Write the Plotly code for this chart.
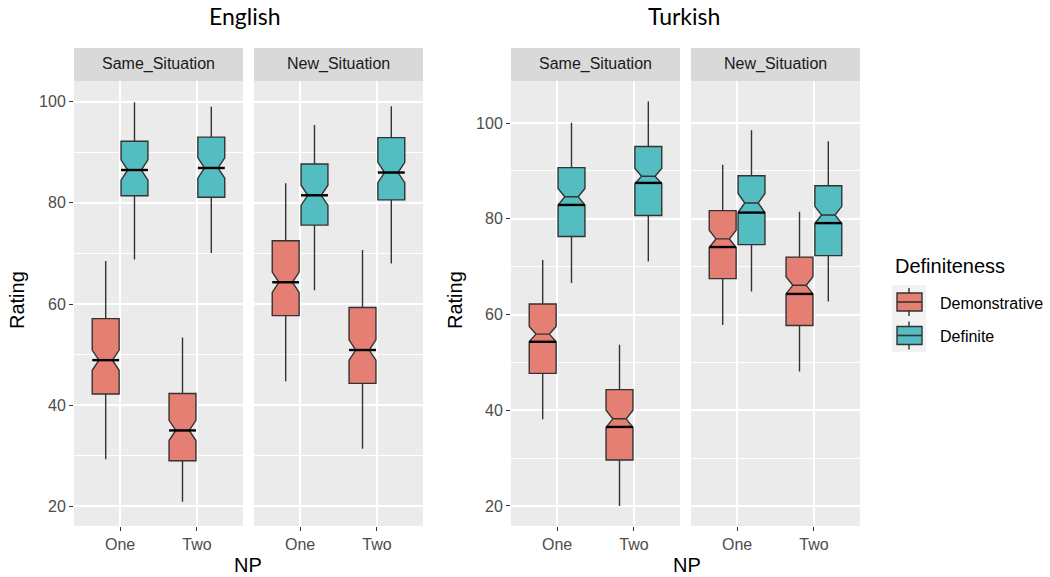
import plotly.graph_objects as go

# ---------------- data ----------------
np_levels = ["One", "Two"]
situations = ["Same_Situation", "New_Situation"]
groups = ["Demonstrative", "Definite"]
languages = ["English", "Turkish"]

# order of 8 entries: Same-Dem-One, Same-Dem-Two, Same-Def-One, Same-Def-Two,
#                     New-Dem-One,  New-Dem-Two,  New-Def-One,  New-Def-Two
en_lower = [29.3, 20.9, 68.8, 70.1, 44.7, 31.4, 62.7, 68.0]
en_q1 = [42.2, 29.0, 81.4, 81.1, 57.7, 44.3, 75.6, 80.6]
en_median = [48.9, 35.0, 86.5, 86.9, 64.3, 50.9, 81.5, 86.0]
en_q3 = [57.1, 42.3, 92.2, 93.0, 72.5, 59.3, 87.7, 92.9]
en_upper = [68.5, 53.4, 99.9, 99.0, 83.9, 70.7, 95.4, 99.1]
en_notch_center = [48.9, 35.0, 86.5, 86.9, 64.3, 50.9, 81.5, 86.0]
en_notch_half = [2.0, 2.0, 2.0, 2.0, 2.0, 2.0, 2.0, 2.0]

tr_lower = [38.1, 20.0, 66.6, 71.1, 57.8, 48.1, 64.8, 62.7]
tr_q1 = [47.7, 29.6, 76.3, 80.7, 67.5, 57.7, 74.6, 72.3]
tr_median = [54.3, 36.5, 82.9, 87.5, 74.1, 64.3, 81.3, 79.1]
tr_q3 = [62.2, 44.3, 90.7, 95.1, 81.7, 72.0, 89.0, 86.9]
tr_upper = [71.4, 53.7, 100.1, 104.5, 91.3, 81.5, 98.5, 96.2]
tr_notch_center = [55.9, 38.2, 84.6, 88.9, 75.8, 66.1, 83.3, 80.8]
tr_notch_half = [1.6, 1.8, 1.75, 1.6, 1.8, 1.8, 2.0, 1.8]

y_ticks = [20, 40, 60, 80, 100]

# ---------------- style ----------------
fill_colors = {"Demonstrative": "#E67F73", "Definite": "#54BDC2"}
outline = "#333333"
panel_bg = "#EBEBEB"
strip_bg = "#D9D9D9"
base_font = "Liberation Sans, Arial, sans-serif"
title_font = "Lato, Liberation Sans, sans-serif"

W, H = 1050, 577
panel_top, panel_bottom, strip_top = 81, 526, 48
panels_px = [(74, 243), (254, 423), (511, 680), (691, 860)]
y_ranges = {"English": [16.1, 104.1], "Turkish": [15.8, 108.8]}

dodge = 0.1875
box_w = 0.35

data_sets = {
    "English": dict(lo=en_lower, q1=en_q1, med=en_median, q3=en_q3, hi=en_upper,
                    nc=en_notch_center, nh=en_notch_half),
    "Turkish": dict(lo=tr_lower, q1=tr_q1, med=tr_median, q3=tr_q3, hi=tr_upper,
                    nc=tr_notch_center, nh=tr_notch_half),
}

fig = go.Figure()

for li, lang in enumerate(languages):
    d = data_sets[lang]
    for si, sit in enumerate(situations):
        ax_i = li * 2 + si + 1
        xref = "x" if ax_i == 1 else f"x{ax_i}"
        yref = "y" if ax_i == 1 else f"y{ax_i}"
        for gi, grp in enumerate(groups):
            idx = [si * 4 + gi * 2 + k for k in range(2)]
            offset = -dodge if gi == 0 else dodge
            xs = [k + offset for k in range(2)]
            fig.add_trace(go.Box(
                x=xs,
                q1=[d["q1"][i] for i in idx],
                median=[d["nc"][i] for i in idx],
                q3=[d["q3"][i] for i in idx],
                lowerfence=[d["lo"][i] for i in idx],
                upperfence=[d["hi"][i] for i in idx],
                notchspan=[d["nh"][i] for i in idx],
                notched=True,
                notchwidth=0.25,
                width=box_w,
                whiskerwidth=0,
                boxpoints=False,
                fillcolor=fill_colors[grp],
                line=dict(color=outline, width=1.4),
                name=grp,
                legendgroup=grp,
                showlegend=False,
                xaxis=xref, yaxis=yref,
            ))
            # thick black median segments
            mx, my = [], []
            for k, i in enumerate(idx):
                mx += [xs[k] - box_w / 2, xs[k] + box_w / 2, None]
                my += [d["med"][i], d["med"][i], None]
            fig.add_trace(go.Scatter(
                x=mx, y=my, mode="lines",
                line=dict(color="black", width=2.4),
                showlegend=False, hoverinfo="skip",
                xaxis=xref, yaxis=yref,
            ))

y_dom = [1 - panel_bottom / H, 1 - panel_top / H]
layout = dict(
    width=W, height=H,
    margin=dict(l=0, r=0, t=0, b=0),
    paper_bgcolor="white",
    plot_bgcolor=panel_bg,
    boxmode="overlay",
    font=dict(family=base_font, color="#4D4D4D", size=16),
    showlegend=False,
)

shapes, annotations = [], []
for ax_i, (x0, x1) in enumerate(panels_px, start=1):
    lang = languages[(ax_i - 1) // 2]
    xkey = "xaxis" if ax_i == 1 else f"xaxis{ax_i}"
    ykey = "yaxis" if ax_i == 1 else f"yaxis{ax_i}"
    yname = "y" if ax_i == 1 else f"y{ax_i}"
    xname = "x" if ax_i == 1 else f"x{ax_i}"
    layout[xkey] = dict(
        domain=[x0 / W, x1 / W], anchor=yname,
        range=[-0.6, 1.6], tickvals=[0, 1], ticktext=np_levels,
        showgrid=True, gridcolor="white", gridwidth=1.6,
        zeroline=False, ticks="outside", ticklen=4, tickwidth=1.2, tickcolor="#333333",
        tickfont=dict(size=16, color="#4D4D4D"), showline=False,
    )
    first = (ax_i % 2 == 1)
    layout[ykey] = dict(
        domain=y_dom, anchor=xname,
        range=y_ranges[lang], tickvals=y_ticks,
        showgrid=True, gridcolor="white", gridwidth=1.6,
        minor=dict(tickvals=[30, 50, 70, 90], showgrid=True, gridcolor="white", gridwidth=0.7, ticks=""),
        zeroline=False, showticklabels=first,
        ticks="outside" if first else "", ticklen=4, tickwidth=1.2, tickcolor="#333333",
        tickfont=dict(size=16, color="#4D4D4D"), showline=False,
    )
    # strip
    shapes.append(dict(type="rect", xref=f"{xname} domain", yref="paper",
                       x0=0, x1=1, y0=1 - panel_top / H, y1=1 - strip_top / H,
                       fillcolor=strip_bg, line=dict(width=0), layer="below"))
    annotations.append(dict(text=situations[(ax_i - 1) % 2], xref=f"{xname} domain", yref="paper",
                            x=0.5, y=1 - (panel_top + strip_top) / 2 / H, showarrow=False,
                            xanchor="center", yanchor="middle",
                            font=dict(size=16, color="#1A1A1A")))

# language titles, axis titles
title_x = {"English": 245, "Turkish": 684}
rating_x = {"English": 17, "Turkish": 455}
for lang in languages:
    annotations.append(dict(text=lang, xref="paper", yref="paper",
                            x=title_x[lang] / W, y=1 - 16 / H, showarrow=False,
                            xanchor="center", yanchor="middle",
                            font=dict(family=title_font, size=23, color="black")))
    annotations.append(dict(text="NP", xref="paper", yref="paper",
                            x=(title_x[lang] + 3) / W, y=1 - 565 / H, showarrow=False,
                            xanchor="center", yanchor="middle",
                            font=dict(size=20, color="black")))
    annotations.append(dict(text="Rating", xref="paper", yref="paper", textangle=-90,
                            x=rating_x[lang] / W, y=1 - 300 / H, showarrow=False,
                            xanchor="center", yanchor="middle",
                            font=dict(size=20, color="black")))

# ---- legend (ggplot style keys) ----
annotations.append(dict(text="Definiteness", xref="paper", yref="paper",
                        x=893 / W, y=1 - 266 / H, showarrow=False,
                        xanchor="left", yanchor="middle",
                        font=dict(size=20, color="black")))
key_x0, key_x1, key_top, key_h = 892, 926, 285, 33.5
kc = (key_x0 + key_x1) / 2


def px(xp, yp):
    return xp / W, 1 - yp / H


for gi, grp in enumerate(groups):
    top = key_top + gi * key_h
    bx0, by0 = px(key_x0, top + key_h)
    bx1, by1 = px(key_x1, top)
    shapes.append(dict(type="rect", xref="paper", yref="paper", x0=bx0, x1=bx1, y0=by0, y1=by1,
                       fillcolor="#F2F2F2", line=dict(width=0)))
    wx, wy0 = px(kc, top + 31)
    _, wy1 = px(kc, top + 3)
    shapes.append(dict(type="line", xref="paper", yref="paper", x0=wx, x1=wx, y0=wy0, y1=wy1,
                       line=dict(color=outline, width=1.4)))
    rx0, ry0 = px(key_x0 + 5, top + 26)
    rx1, ry1 = px(key_x1 - 4, top + 8)
    shapes.append(dict(type="rect", xref="paper", yref="paper", x0=rx0, x1=rx1, y0=ry0, y1=ry1,
                       fillcolor=fill_colors[grp], line=dict(color=outline, width=1.4)))
    _, my = px(kc, top + 17)
    shapes.append(dict(type="line", xref="paper", yref="paper", x0=rx0, x1=rx1, y0=my, y1=my,
                       line=dict(color=outline, width=1.6)))
    tx, ty = px(938, top + 18)
    annotations.append(dict(text=grp, xref="paper", yref="paper", x=tx, y=ty, showarrow=False,
                            xanchor="left", yanchor="middle",
                            font=dict(size=16, color="black")))

layout["shapes"] = shapes
layout["annotations"] = annotations
fig.update_layout(**layout)
fig.write_html("out.html", config={"displayModeBar": False},
               post_script="document.body.style.margin='0';")
